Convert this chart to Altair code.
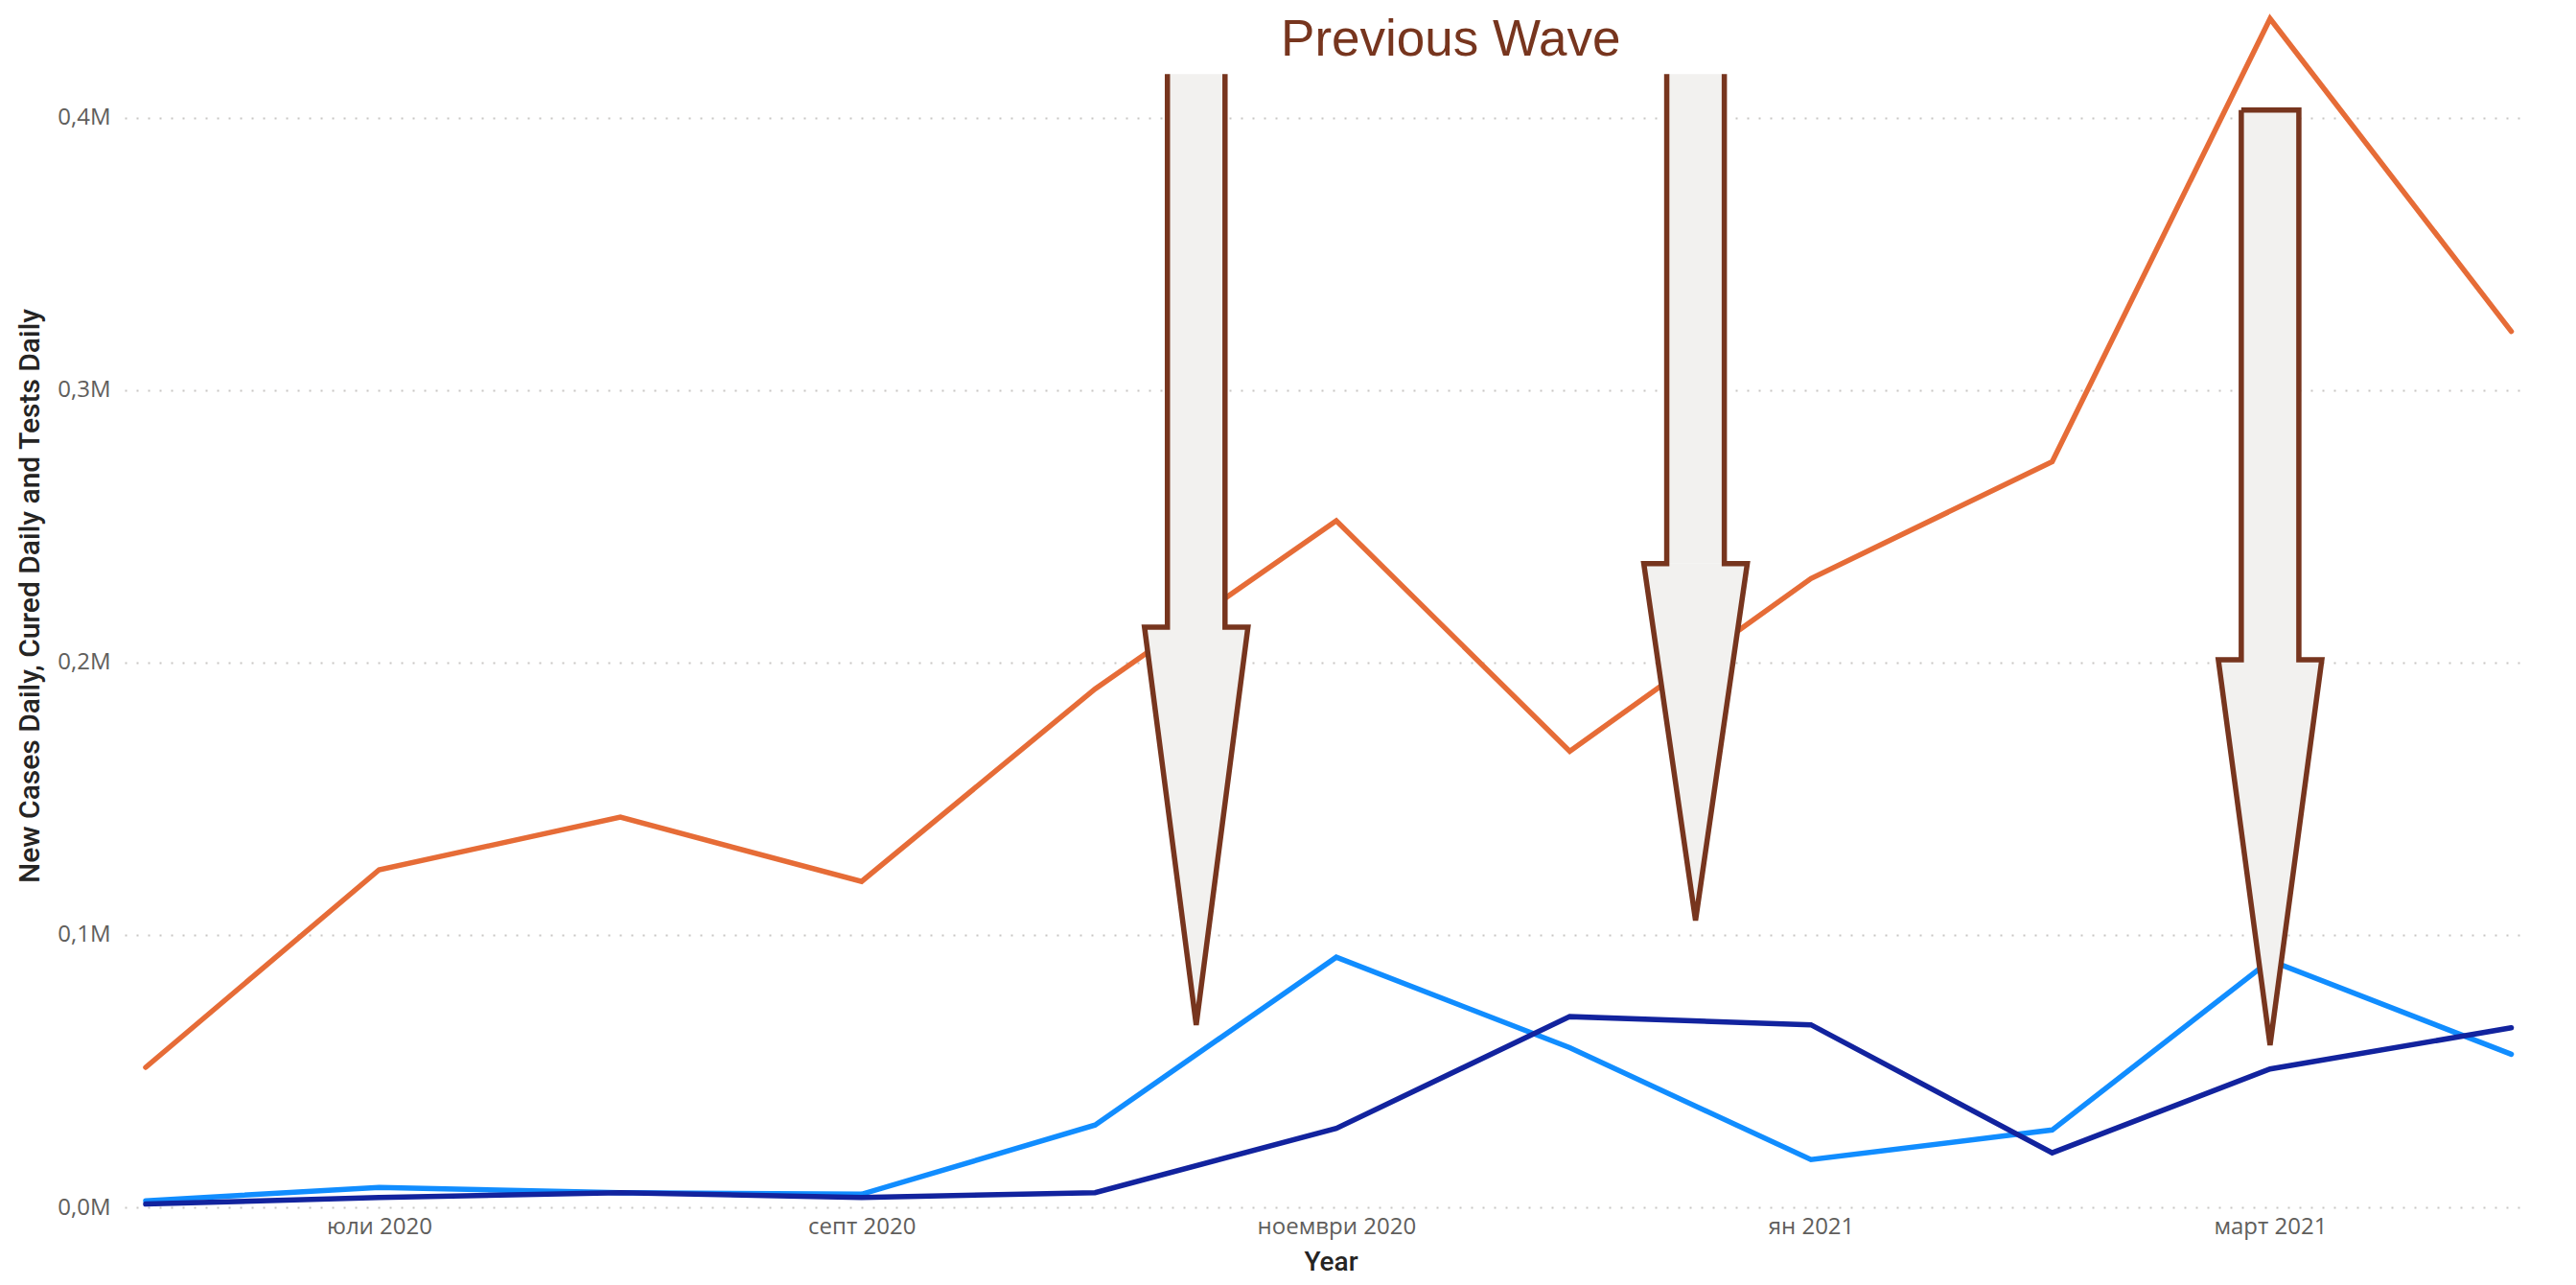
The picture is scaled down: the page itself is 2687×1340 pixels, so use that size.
import altair as alt
import pandas as pd

# ---------------- data ----------------
MONTHS = ["2020-06-01", "2020-07-01", "2020-08-01", "2020-09-01", "2020-10-01",
          "2020-11-01", "2020-12-01", "2021-01-01", "2021-02-01", "2021-03-01",
          "2021-04-01"]
NEW_CASES = [2400, 7300, 5400, 4800, 30200, 91800, 58600, 17500, 28400, 90600, 56200]
CURED = [1200, 3600, 5400, 3600, 5400, 29000, 70000, 67000, 20000, 50800, 65900]
TESTS = [51400, 123900, 143200, 119600, 190300, 252000, 167400, 230800, 273700, 436300, 321500]
SERIES = ["New Cases Daily", "Cured Daily", "Tests Daily"]
COLORS = ["#118DFF", "#12239E", "#E66C37"]

BG_MONTHS = ["ян", "февр", "март", "апр", "май", "юни", "юли", "авг", "септ", "окт", "ноември", "дек"]
X_TICKS = ["2020-07-01", "2020-09-01", "2020-11-01", "2021-01-01", "2021-03-01"]
Y_TICKS = [0, 100000, 200000, 300000, 400000]

# annotation arrows (data units)
ARROW_CENTERS = ["2020-10-14T00:00:00Z", "2020-12-17T04:00:00Z", "2021-03-01T00:00:00Z"]
ARROW_TOPS = [416000, 416000, 402800]
ARROW_BASES = [213000, 236300, 201000]
ARROW_TIPS = [66900, 105300, 59500]
ARROW_CLOSED = [False, False, True]
SHAFT_HALF_DAYS = 3.7
HEAD_HALF_DAYS = 6.65

ANNOTATION = ["Previous Wave"]
ANNOTATION_DATE = ["2020-11-15T17:00:00Z"]
ANNOTATION_VALUE = [422900]

# ---------------- tables ----------------
rows = []
for name, vals in zip(SERIES, [NEW_CASES, CURED, TESTS]):
    for d, v in zip(MONTHS, vals):
        rows.append({"date": d, "value": v, "series": name})
lines_df = pd.DataFrame(rows)


def iso(ts):
    return ts.strftime("%Y-%m-%dT%H:%M:%SZ")


shaft_rows, head_rows, outline_rows = [], [], []
for i, (c, top, base, tip, closed) in enumerate(zip(ARROW_CENTERS, ARROW_TOPS, ARROW_BASES, ARROW_TIPS, ARROW_CLOSED)):
    ct = pd.Timestamp(c)
    sh = pd.Timedelta(days=SHAFT_HALF_DAYS)
    hd = pd.Timedelta(days=HEAD_HALF_DAYS)
    shaft_rows.append({"arrow": i, "date": iso(ct - sh), "date2": iso(ct + sh), "value": top, "value2": base})
    for d, lo in [(ct - hd, base), (ct, tip), (ct + hd, base)]:
        head_rows.append({"arrow": i, "date": iso(d), "value": base, "value2": lo})
    pts = [(ct - sh, top), (ct - sh, base), (ct - hd, base), (ct, tip), (ct + hd, base), (ct + sh, base), (ct + sh, top)]
    if closed:
        pts.append((ct - sh, top))
    for k, (d, v) in enumerate(pts):
        outline_rows.append({"arrow": i, "k": k, "date": iso(d), "value": v})
shaft_df = pd.DataFrame(shaft_rows)
head_df = pd.DataFrame(head_rows)
outline_df = pd.DataFrame(outline_rows)
text_df = pd.DataFrame({"date": ANNOTATION_DATE, "value": ANNOTATION_VALUE, "label": ANNOTATION})

# ---------------- scales / axes ----------------
def dt(s):
    t = pd.Timestamp(s)
    return alt.DateTime(year=t.year, month=t.month, date=t.day, hours=t.hour, utc=True)


x_scale = alt.Scale(type="utc", domain=[dt("2020-05-29T07:00"), dt("2021-04-02T07:00")])
y_scale = alt.Scale(domain=[0, 440000], nice=False, zero=True)

month_arr = "[" + ",".join("'" + m + "'" for m in BG_MONTHS) + "]"
x_axis = alt.Axis(
    title="Year", values=[dt(t) for t in X_TICKS],
    labelExpr=month_arr + "[utcmonth(datum.value)] + ' ' + utcyear(datum.value)",
    grid=False, domain=False, ticks=False, labelPadding=8,
    labelFont="Open Sans", labelFontSize=24, labelColor="#605E5C",
    titleFont="Roboto", titleFontSize=28, titleFontWeight=500, titleColor="#252423",
    titleX=1258, titleY=57, titleAlign="center", titleBaseline="middle",
)
y_axis = alt.Axis(
    title="New Cases Daily, Cured Daily and Tests Daily", values=Y_TICKS,
    labelExpr="replace(format(datum.value / 1000000, '.1f'), '.', ',') + 'M'",
    grid=True, gridDash=[2, 10], gridColor="#C8C6C4", gridWidth=2,
    domain=False, ticks=False, labelPadding=15,
    labelFont="Open Sans", labelFontSize=24, labelColor="#605E5C",
    titleFont="Roboto", titleFontSize=30, titleFontWeight=500, titleColor="#252423",
    titleX=-99, titleY=612, titleAngle=270, titleAlign="center", titleBaseline="middle",
)

X = alt.X("date:T", scale=x_scale, axis=x_axis)
Y = alt.Y("value:Q", scale=y_scale, axis=y_axis)

lines = alt.Chart(lines_df).mark_line(strokeWidth=5.5, strokeCap="round").encode(
    x=X, y=Y,
    color=alt.Color("series:N", scale=alt.Scale(domain=SERIES, range=COLORS), legend=None),
)

arrow_shaft = alt.Chart(shaft_df).mark_rect(color="#F2F1EF").encode(
    x=X, x2="date2:T", y=Y, y2="value2:Q",
)

arrow_head = alt.Chart(head_df).mark_area(color="#F2F1EF").encode(
    x=X, y=Y, y2="value2:Q", detail="arrow:N",
)

arrow_outline = alt.Chart(outline_df).mark_line(color="#77351E", strokeWidth=5.5, strokeJoin="miter").encode(
    x=X, y=Y, detail="arrow:N", order="k:Q",
)

title_text = alt.Chart(text_df).mark_text(
    font="Liberation Sans", fontSize=53, color="#77351E", align="center", baseline="alphabetic",
).encode(x=X, y=Y, text="label:N")

chart = alt.layer(lines, arrow_shaft, arrow_head, arrow_outline, title_text).properties(
    width=2500, height=1250,
    autosize=alt.AutoSizeParams(type="none"),
    padding={"left": 122, "top": 1, "right": 41, "bottom": 72},
    background="white",
).configure_view(stroke=None)

chart.save("out.html", embed_options={"renderer": "svg", "actions": False})
